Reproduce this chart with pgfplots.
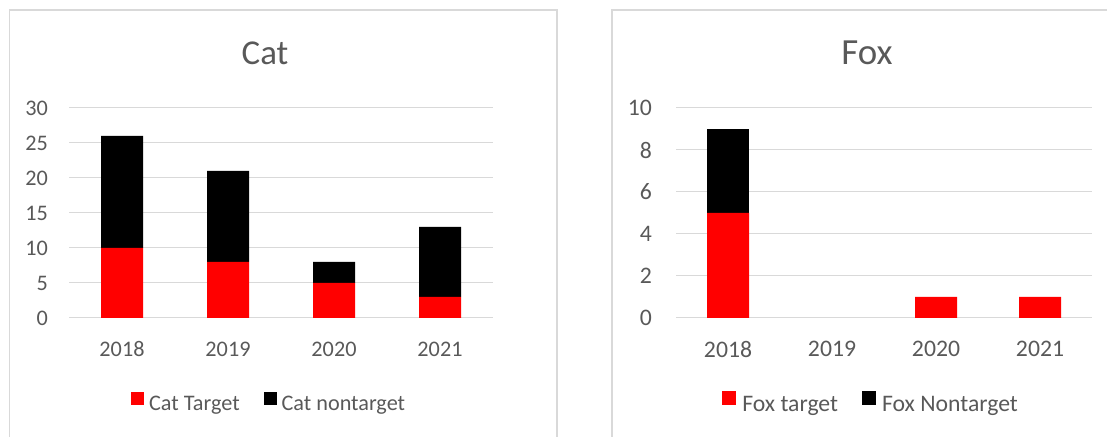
\documentclass[border=0pt]{standalone}
\usepackage{fontspec}
\setmainfont{Carlito}
\usepackage{pgfplots}
\pgfplotsset{compat=1.18}
\usepackage{pgfplotstable}
\definecolor{textgray}{HTML}{595959}
\definecolor{gridgray}{HTML}{D9D9D9}
\definecolor{bordergray}{HTML}{D9D9D9}
\definecolor{barred}{HTML}{FF0000}

\pgfplotstableread{
x val
0 10
1 8
2 5
3 3
}\cattarget
\pgfplotstableread{
x val
0 16
1 13
2 3
3 10
}\catnontarget
\pgfplotstableread{
x val
0 5
1 0
2 1
3 1
}\foxtarget
\pgfplotstableread{
x val
0 4
1 0
2 0
3 0
}\foxnontarget

\pgfplotsset{
  mychart/.style={
    scale only axis,
    height=210bp,
    xmin=-0.5, xmax=3.5, ymin=0,
    xtick={0,1,2,3},
    xticklabels={2018,2019,2020,2021},
    ybar stacked,
    bar width=42bp,
    ymajorgrids,
    grid style={color=gridgray, line width=1bp},
    axis line style={draw=none},
    major tick length=0pt,
    /pgf/number format/assume math mode=true,
    tick label style={text=textgray},
    yticklabel style={anchor=east, inner sep=0pt},
    xticklabel style={anchor=center, inner sep=0pt, yshift=-31bp},
    legend style={draw=none, fill=none, legend columns=2,
      text=textgray, anchor=center},
    legend cell align=left,
  }
}

\begin{document}
\begin{tikzpicture}[x=1bp,y=1bp]
\path[use as bounding box] (0,0) rectangle (1107,437);
\draw[bordergray, line width=1.2bp] (9.5,0) -- (9.5,427) -- (557,427) -- (557,0);
\draw[bordergray, line width=1.2bp] (612,0) -- (612,427) -- (1107,427);

\node[font=\fontsize{35}{42}\selectfont, text=textgray] at (265,384) {Cat};
\node[font=\fontsize{37}{44}\selectfont, text=textgray] at (867,384) {Fox};

\begin{axis}[mychart,
  at={(69bp,119bp)}, anchor=south west,
  width=424bp, ymax=30, ytick={0,5,10,15,20,25,30},
  tick label style={font=\fontsize{22.3}{26}\selectfont},
  yticklabel style={xshift=-21bp},
  legend style={at={(axis description cs:0.472,-0.405)},
    font=\fontsize{22.3}{26}\selectfont,
    /tikz/every even column/.append style={column sep=22bp}},
  legend image code/.code={\fill[#1] (0bp,-1bp) rectangle (13bp,12.5bp); \path (16bp,0bp);}]
\addplot[fill=barred, draw=none] table[x=x, y=val] {\cattarget};
\addlegendentry{Cat Target}
\addplot[fill=black, draw=none] table[x=x, y=val] {\catnontarget};
\addlegendentry{Cat nontarget}
\end{axis}

\begin{axis}[mychart,
  at={(676bp,119bp)}, anchor=south west,
  width=416bp, ymax=10, ytick={0,2,4,6,8,10},
  tick label style={font=\fontsize{23.8}{28}\selectfont},
  yticklabel style={xshift=-24bp},
  legend style={at={(axis description cs:0.469,-0.405)},
    font=\fontsize{23.8}{28}\selectfont,
    /tikz/every even column/.append style={column sep=22bp}},
  legend image code/.code={\fill[#1] (0bp,-1bp) rectangle (14bp,13bp); \path (18bp,0bp);}]
\addplot[fill=barred, draw=none] table[x=x, y=val] {\foxtarget};
\addlegendentry{Fox target}
\addplot[fill=black, draw=none] table[x=x, y=val] {\foxnontarget};
\addlegendentry{Fox Nontarget}
\end{axis}
\end{tikzpicture}
\end{document}
